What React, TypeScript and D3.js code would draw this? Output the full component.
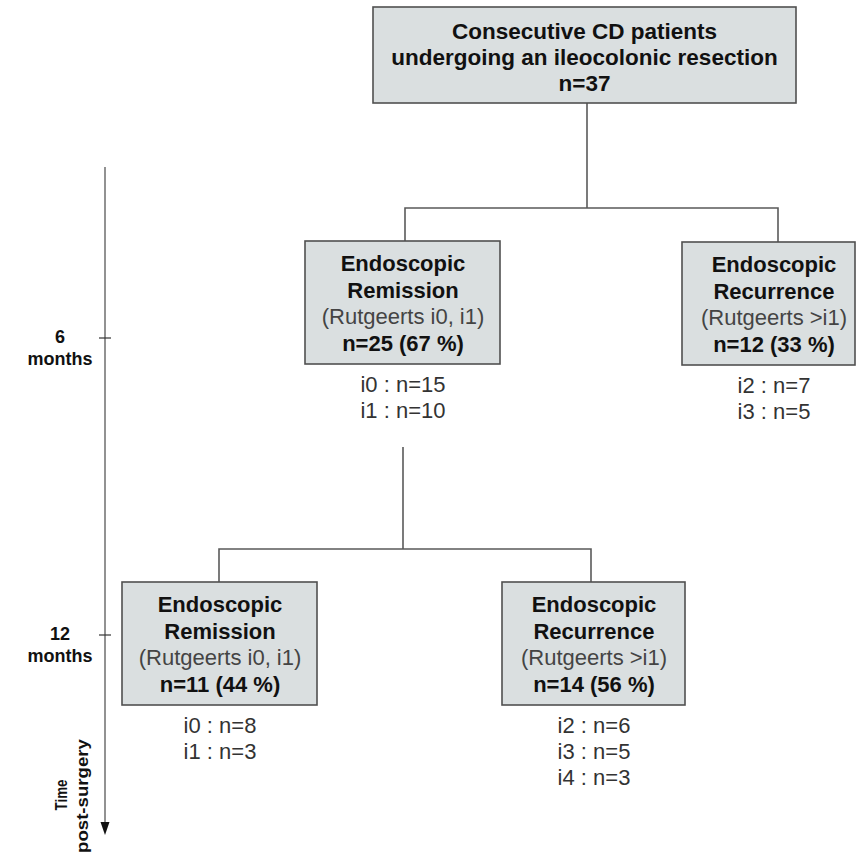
import React from "react";
import * as d3 from "d3";

// ---- data ----
const rootTitle = ["Consecutive CD patients", "undergoing an ileocolonic resection"];
const rootN = 37;
const nodeStatus = ["Remission", "Recurrence", "Remission", "Recurrence"];
const nodeCriteria = ["(Rutgeerts i0, i1)", "(Rutgeerts >i1)", "(Rutgeerts i0, i1)", "(Rutgeerts >i1)"];
const nodeN = [25, 12, 11, 14];
const nodePct = [67, 33, 44, 56];
const nodeSubLabels = [["i0", "i1"], ["i2", "i3"], ["i0", "i1"], ["i2", "i3", "i4"]];
const nodeSubCounts = [[15, 10], [7, 5], [8, 3], [6, 5, 3]];
const timeTicks = [6, 12];
const timeTickLabel = "months";
const timeAxisTitle = ["Time", "post-surgery"];

// ---- layout (pixels) ----
const W = 856;
const H = 856;
const rootBox = { x0: 373, x1: 796, y0: 7, y1: 103 };
const boxes = [
  { x0: 305, x1: 500, y0: 241, y1: 364, cx: 403 },
  { x0: 682, x1: 855, y0: 242, y1: 365, cx: 774 },
  { x0: 122, x1: 317, y0: 582, y1: 705, cx: 220 },
  { x0: 502, x1: 685, y0: 582, y1: 705, cx: 594 },
];
const yScale = d3.scaleLinear().domain([6, 12]).range([338, 635]);
const axisX = 105;
const axisTop = 167;
const axisBottom = 835;

const FONT = "'Liberation Sans', Arial, sans-serif";
const BOX_FILL = "#dadfe0";
const BOX_STROKE = "#505050";
const LINE = "#5a5a5a";

export default function App() {
  const path = d3.path();
  // root -> level 1
  path.moveTo(587, rootBox.y1);
  path.lineTo(587, 208);
  path.moveTo(405, boxes[0].y0);
  path.lineTo(405, 208);
  path.lineTo(778, 208);
  path.lineTo(778, boxes[1].y0);
  // remission -> level 2
  path.moveTo(403, 447);
  path.lineTo(403, 549);
  path.moveTo(219, boxes[2].y0);
  path.lineTo(219, 549);
  path.lineTo(591, 549);
  path.lineTo(591, boxes[3].y0);

  const rootCx = (rootBox.x0 + rootBox.x1) / 2;

  return (
    <svg width={W} height={H} style={{ position: "absolute", left: 0, top: 0 }} fontFamily={FONT}>
      <rect width={W} height={H} fill="#fff" />
      {/* time axis */}
      <line x1={axisX} x2={axisX} y1={axisTop} y2={axisBottom - 12} stroke="#777" strokeWidth={1.6} />
      <path d={`M${axisX - 4.5},${axisBottom - 13}L${axisX + 4.5},${axisBottom - 13}L${axisX},${axisBottom}Z`} fill="#111" />
      {timeTicks.map((t) => (
        <g key={t}>
          <line x1={axisX - 6} x2={axisX + 6} y1={yScale(t)} y2={yScale(t)} stroke="#333" strokeWidth={1.2} />
          <text x={60} y={yScale(t) + 5} textAnchor="middle" fontSize={18} fontWeight="bold" fill="#111">{t}</text>
          <text x={60} y={yScale(t) + 27} textAnchor="middle" fontSize={18} fontWeight="bold" fill="#111">{timeTickLabel}</text>
        </g>
      ))}
      <text transform="translate(67,795) rotate(-90)" textAnchor="middle" fontSize={17} fontWeight="bold" fill="#111" textLength={31} lengthAdjust="spacingAndGlyphs">{timeAxisTitle[0]}</text>
      <text transform="translate(88,796) rotate(-90)" textAnchor="middle" fontSize={17} fontWeight="bold" fill="#111" textLength={114} lengthAdjust="spacingAndGlyphs">{timeAxisTitle[1]}</text>

      {/* connectors */}
      <path d={path.toString()} fill="none" stroke={LINE} strokeWidth={1.6} />

      {/* root box */}
      <rect x={rootBox.x0} y={rootBox.y0} width={rootBox.x1 - rootBox.x0} height={rootBox.y1 - rootBox.y0} fill={BOX_FILL} stroke={BOX_STROKE} strokeWidth={1.6} />
      <text x={rootCx} y={39} textAnchor="middle" fontSize={22.5} fontWeight="bold" fill="#111">{rootTitle[0]}</text>
      <text x={rootCx} y={65} textAnchor="middle" fontSize={22.5} fontWeight="bold" fill="#111">{rootTitle[1]}</text>
      <text x={rootCx} y={91} textAnchor="middle" fontSize={22.5} fontWeight="bold" fill="#111">{`n=${rootN}`}</text>

      {/* outcome boxes */}
      {boxes.map((b, i) => {
        const cx = b.cx;
        const base = b.y0 + 30;
        const step = 26.5;
        return (
          <g key={i}>
            <rect x={b.x0} y={b.y0} width={b.x1 - b.x0} height={b.y1 - b.y0} fill={BOX_FILL} stroke={BOX_STROKE} strokeWidth={1.6} />
            <text x={cx} y={base} textAnchor="middle" fontSize={22} fontWeight="bold" fill="#111">Endoscopic</text>
            <text x={cx} y={base + step} textAnchor="middle" fontSize={22} fontWeight="bold" fill="#111">{nodeStatus[i]}</text>
            <text x={cx} y={base + step * 2} textAnchor="middle" fontSize={22} fill="#444">{nodeCriteria[i]}</text>
            <text x={cx} y={base + step * 3} textAnchor="middle" fontSize={22} fontWeight="bold" fill="#111">{`n=${nodeN[i]} (${nodePct[i]} %)`}</text>
            {nodeSubLabels[i].map((lab, j) => (
              <text key={lab} x={cx} y={b.y1 + 28 + j * 26} textAnchor="middle" fontSize={22} fill="#333">{`${lab} : n=${nodeSubCounts[i][j]}`}</text>
            ))}
          </g>
        );
      })}
    </svg>
  );
}
